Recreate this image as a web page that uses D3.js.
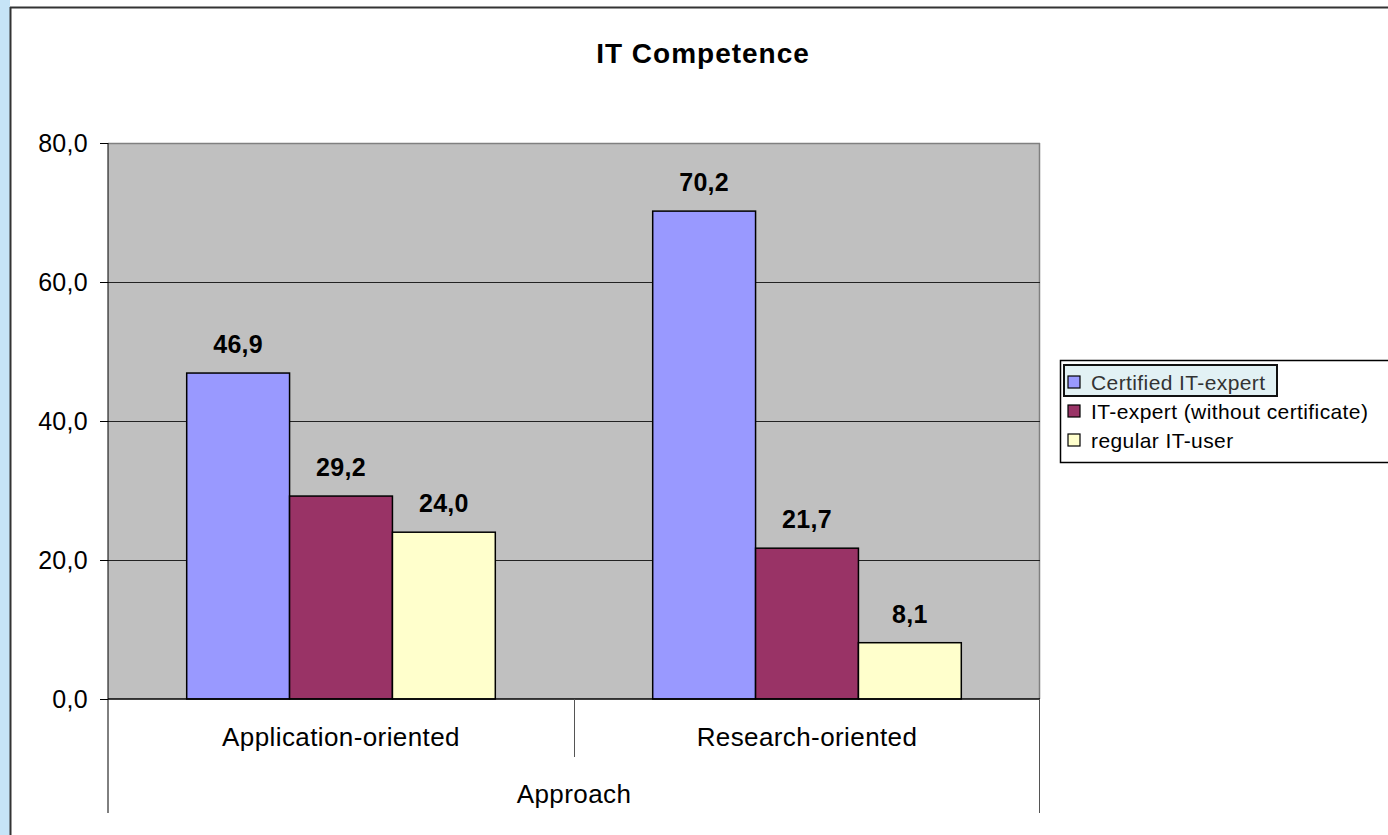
<!DOCTYPE html>
<html>
<head>
<meta charset="utf-8">
<script src="https://cdnjs.cloudflare.com/ajax/libs/d3/7.8.5/d3.min.js"></script>
<style>
  body { margin: 0; background: #fff; }
  svg { display: block; font-family: Arial, "Liberation Sans", sans-serif; }
</style>
</head>
<body>
<svg width="1388" height="835"></svg>
<script>
const categories = ["Application-oriented", "Research-oriented"];
const seriesNames = ["Certified IT-expert", "IT-expert (without certificate)", "regular IT-user"];
const certified = [46.9, 70.2];
const noCertificate = [29.2, 21.7];
const regularUser = [24.0, 8.1];
const yTicks = [0, 20, 40, 60, 80];
const colors = ["#9999ff", "#993366", "#ffffcc"];

const seriesValues = [certified, noCertificate, regularUser];
const fmt = v => d3.format(".1f")(v).replace(".", ",");

const svg = d3.select("svg");

// light blue strip on the left and the chart frame
svg.append("rect").attr("x", 0).attr("y", 0).attr("width", 10).attr("height", 835).attr("fill", "#c6e4f7");
svg.append("line").attr("x1", 10).attr("x2", 1388).attr("y1", 7.5).attr("y2", 7.5)
  .attr("stroke", "#333").attr("stroke-width", 2);
svg.append("line").attr("x1", 10.5).attr("x2", 10.5).attr("y1", 7).attr("y2", 835)
  .attr("stroke", "#333").attr("stroke-width", 2);

const plot = { left: 108, right: 1040, top: 143, bottom: 699 };

const y = d3.scaleLinear().domain([0, 80]).range([plot.bottom, plot.top]);
const x0 = d3.scaleBand().domain(categories).range([plot.left, plot.right]);
const x1 = d3.scaleBand().domain(seriesNames).range([0, x0.bandwidth()]).paddingOuter(0.765);

// plot background
svg.append("rect")
  .attr("x", plot.left).attr("y", plot.top)
  .attr("width", plot.right - plot.left).attr("height", plot.bottom - plot.top)
  .attr("fill", "#c0c0c0");
svg.append("line").attr("x1", plot.left).attr("x2", plot.right).attr("y1", plot.top + 0.5).attr("y2", plot.top + 0.5)
  .attr("stroke", "#808080").attr("stroke-width", 1.5);
svg.append("line").attr("x1", plot.right - 0.5).attr("x2", plot.right - 0.5).attr("y1", plot.top).attr("y2", plot.bottom)
  .attr("stroke", "#808080").attr("stroke-width", 1.5);

// gridlines
svg.append("g").selectAll("line")
  .data(yTicks.filter(t => t > 0 && t < 80))
  .join("line")
  .attr("x1", plot.left).attr("x2", plot.right)
  .attr("y1", d => Math.round(y(d)) + 0.5).attr("y2", d => Math.round(y(d)) + 0.5)
  .attr("stroke", "#222").attr("stroke-width", 1);

// y axis
const yAxis = svg.append("g")
  .attr("transform", `translate(${plot.left},0)`)
  .call(d3.axisLeft(y).tickValues(yTicks).tickFormat(fmt).tickSize(8).tickPadding(12));
yAxis.select(".domain").remove();
yAxis.append("line").attr("x1", 0).attr("x2", 0).attr("y1", plot.top).attr("y2", 813).attr("stroke", "#000");
yAxis.selectAll(".tick line").attr("stroke", "#000");
yAxis.selectAll(".tick text").attr("font-size", 25).attr("fill", "#000")
  .attr("font-family", "Arial, 'Liberation Sans', sans-serif").attr("letter-spacing", 0.3);

// bars
const groups = svg.append("g").selectAll("g")
  .data(categories)
  .join("g")
  .attr("transform", d => `translate(${x0(d)},0)`);

groups.selectAll("rect")
  .data((c, i) => seriesNames.map((s, j) => ({ s, j, v: seriesValues[j][i] })))
  .join("rect")
  .attr("x", d => x1(d.s))
  .attr("y", d => y(d.v))
  .attr("width", x1.bandwidth())
  .attr("height", d => plot.bottom - y(d.v))
  .attr("fill", d => colors[d.j])
  .attr("stroke", "#000")
  .attr("stroke-width", 1.5);

groups.selectAll("text")
  .data((c, i) => seriesNames.map((s, j) => ({ s, j, v: seriesValues[j][i] })))
  .join("text")
  .attr("x", d => x1(d.s) + x1.bandwidth() / 2)
  .attr("y", d => y(d.v) - 20)
  .attr("text-anchor", "middle")
  .attr("font-size", 25)
  .attr("font-weight", "bold")
  .attr("letter-spacing", 0.3)
  .text(d => fmt(d.v));

// x axis baseline and category dividers
svg.append("line").attr("x1", plot.left).attr("x2", plot.right).attr("y1", plot.bottom).attr("y2", plot.bottom)
  .attr("stroke", "#000").attr("stroke-width", 1.5);
svg.append("line").attr("x1", plot.right - 0.5).attr("x2", plot.right - 0.5).attr("y1", plot.bottom).attr("y2", 813)
  .attr("stroke", "#555");
svg.append("g").selectAll("line")
  .data(categories.slice(1))
  .join("line")
  .attr("x1", d => x0(d) + 0.5).attr("x2", d => x0(d) + 0.5)
  .attr("y1", plot.bottom).attr("y2", 757)
  .attr("stroke", "#555");

svg.append("g").selectAll("text")
  .data(categories)
  .join("text")
  .attr("x", d => x0(d) + x0.bandwidth() / 2)
  .attr("y", 746)
  .attr("text-anchor", "middle")
  .attr("font-size", 26)
  .attr("letter-spacing", 0.4)
  .text(d => d);

svg.append("text")
  .attr("x", (plot.left + plot.right) / 2)
  .attr("y", 803)
  .attr("text-anchor", "middle")
  .attr("font-size", 26)
  .attr("letter-spacing", 0.4)
  .text("Approach");

// title
svg.append("text")
  .attr("x", 703)
  .attr("y", 63)
  .attr("text-anchor", "middle")
  .attr("font-size", 28)
  .attr("font-weight", "bold")
  .attr("letter-spacing", 1)
  .text("IT Competence");

// legend
const legend = svg.append("g");
legend.append("rect")
  .attr("x", 1060.5).attr("y", 360.5).attr("width", 340).attr("height", 102)
  .attr("fill", "#fff").attr("stroke", "#000").attr("stroke-width", 1.5);
legend.append("rect")
  .attr("x", 1064).attr("y", 365).attr("width", 213).attr("height", 31)
  .attr("fill", "#e2f1f4").attr("stroke", "#111").attr("stroke-width", 2);

const items = legend.selectAll("g.item")
  .data(seriesNames)
  .join("g")
  .attr("class", "item")
  .attr("transform", (d, i) => `translate(1068,${382 + i * 29})`);
items.append("rect")
  .attr("x", 0).attr("y", -6).attr("width", 12).attr("height", 12)
  .attr("fill", (d, i) => colors[i]).attr("stroke", "#000").attr("stroke-width", 1.2);
items.append("text")
  .attr("x", 23).attr("y", 7.5)
  .attr("font-size", 21)
  .attr("letter-spacing", 0.4)
  .attr("fill", (d, i) => i === 0 ? "#333" : "#000")
  .text(d => d);
</script>
</body>
</html>
